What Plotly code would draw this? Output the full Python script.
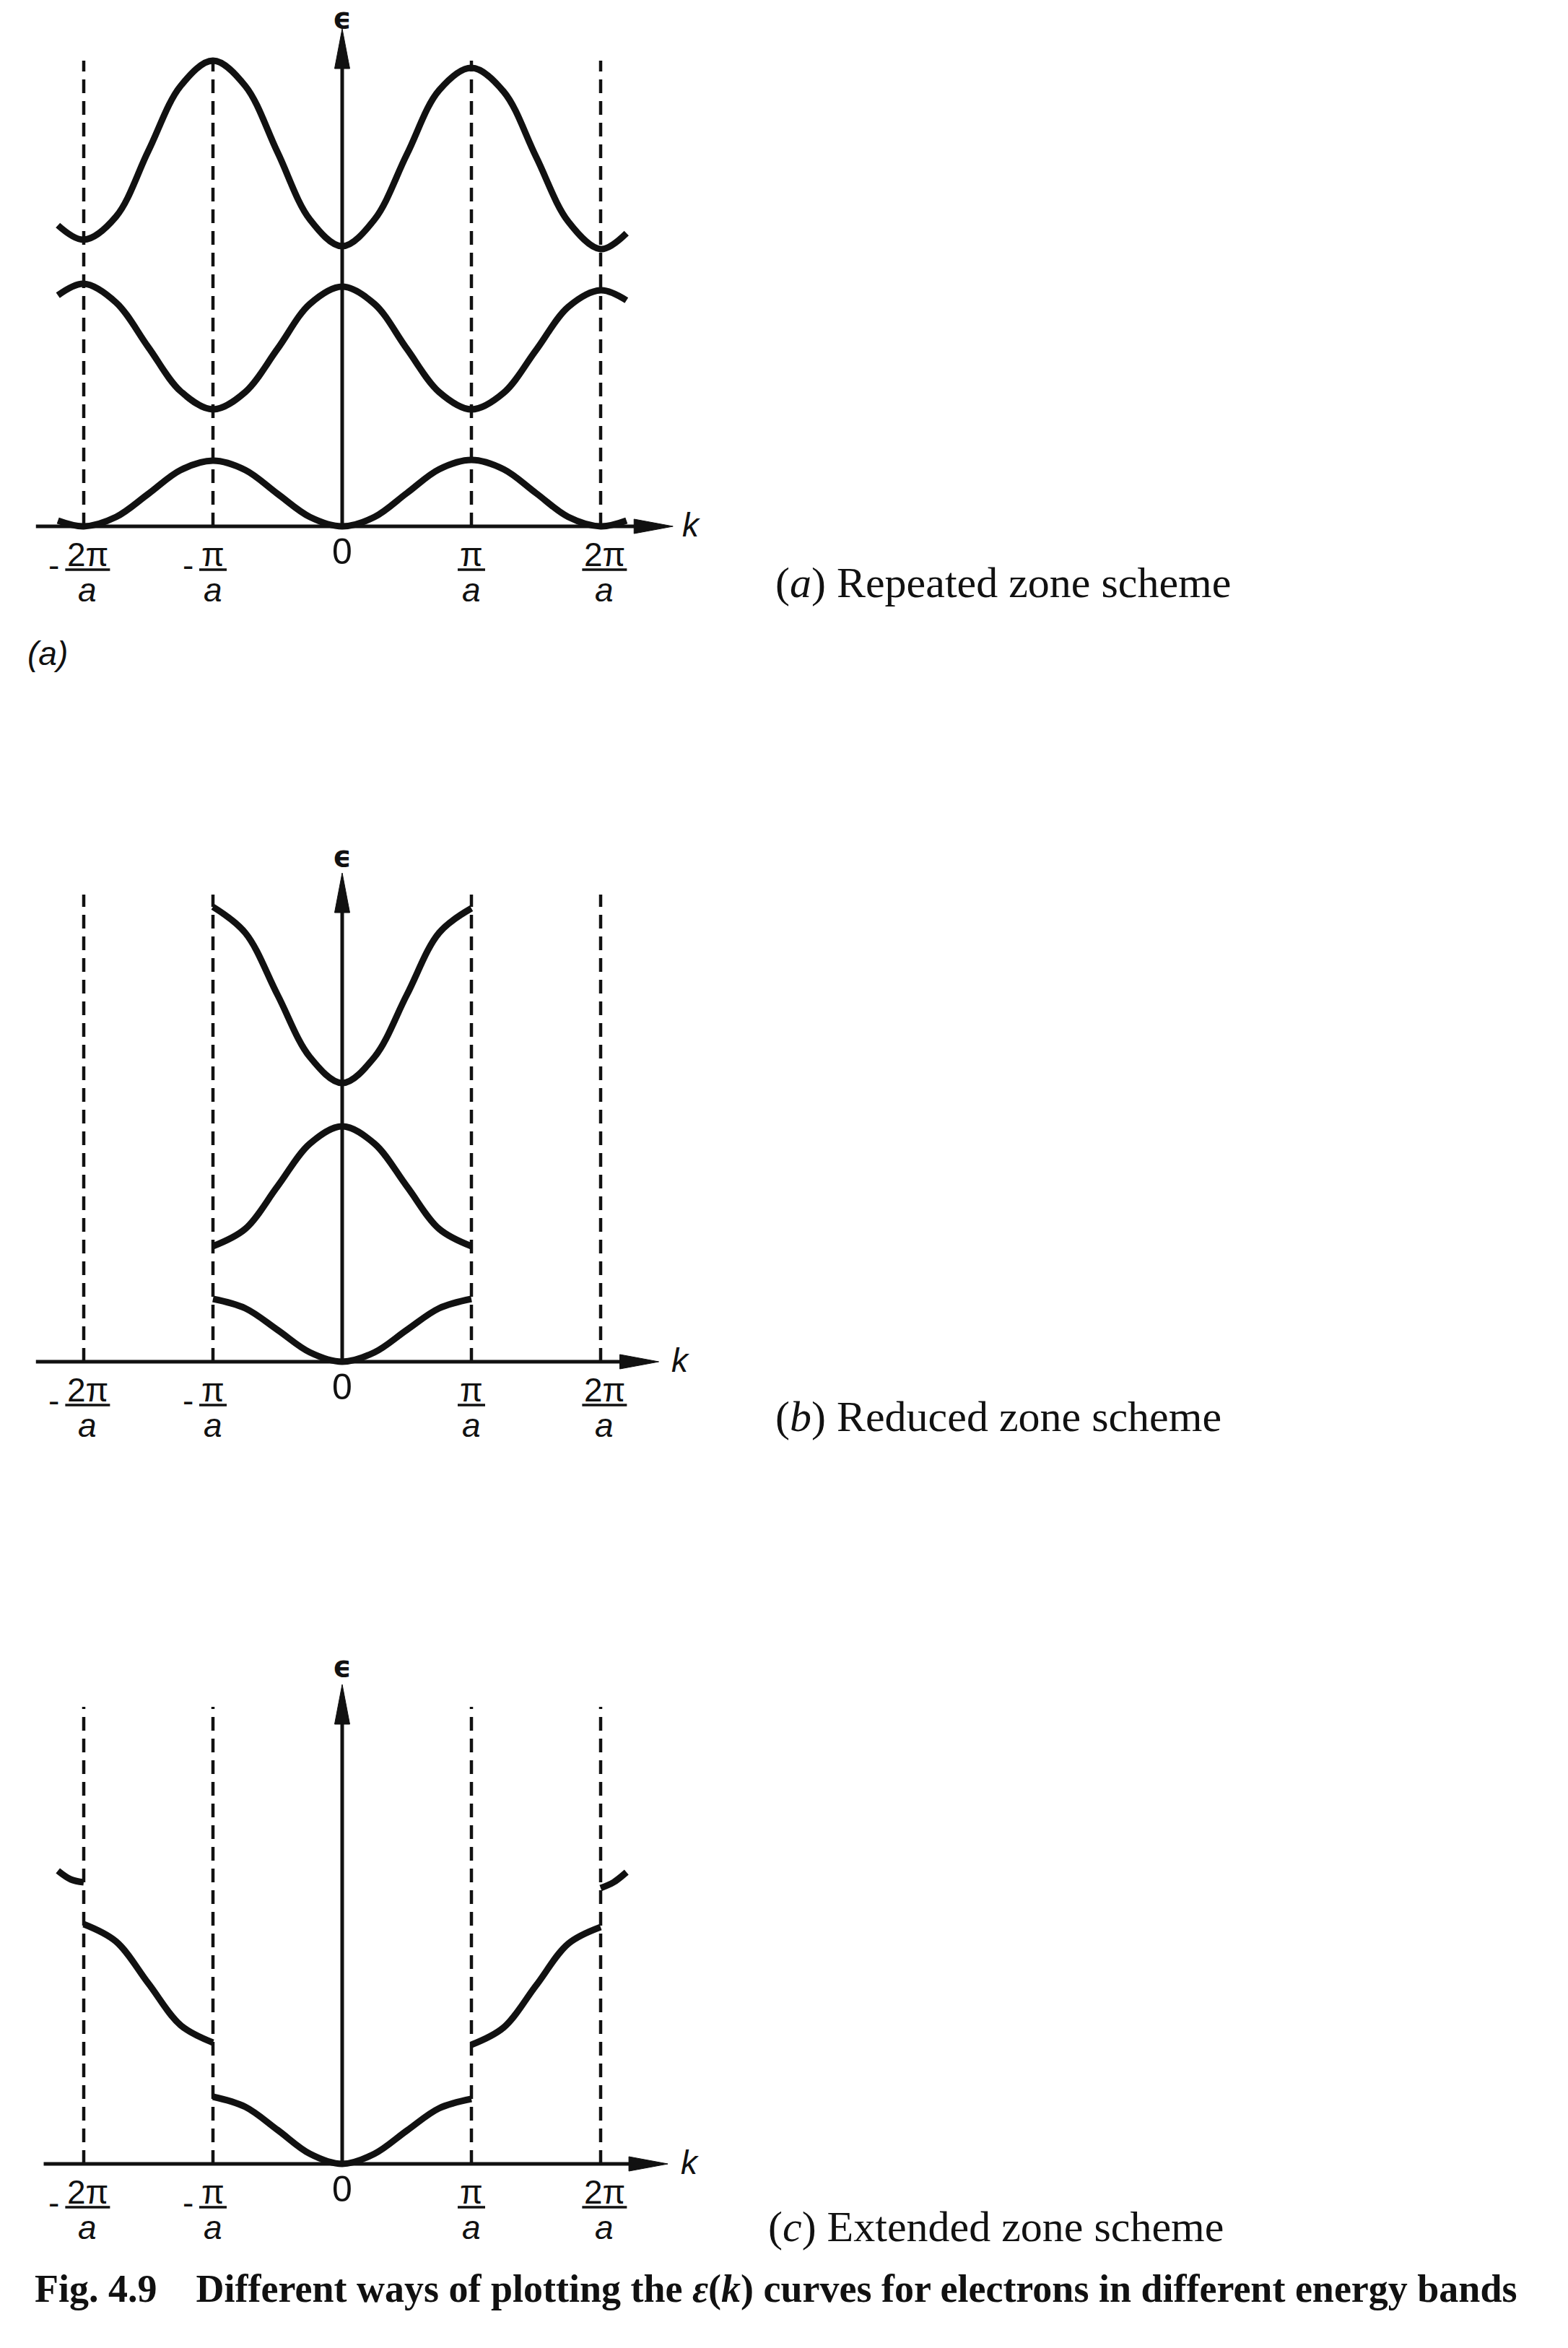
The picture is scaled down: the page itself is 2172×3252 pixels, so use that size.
import plotly.graph_objects as go

W, H = 2172, 3252
PX_X0 = 474        # pixel column of k = 0
PX_PER_K = 179     # pixels per pi/a
PX_PER_E = 10      # pixels per energy unit

# ---------------- data ----------------
zone_k = [-2, -1, 1, 2]                      # zone boundaries (units of pi/a)
tick_k = [-2, -1, 0, 1, 2]
tick_num = ["2π", "π", "0", "π", "2π"]
tick_minus = [True, True, False, False, False]

# (a) repeated zone scheme
k_a = [-2.2, -2.0, -1.75, -1.5, -1.25, -1.0, -0.75, -0.5, -0.25, 0.0,
       0.25, 0.5, 0.75, 1.0, 1.25, 1.5, 1.75, 2.0, 2.2]
band1_a = [0.8, 0.0, 1.3, 4.5, 7.8, 9.1, 7.8, 4.5, 1.3, 0.0,
           1.3, 4.6, 7.9, 9.2, 7.9, 4.6, 1.3, 0.0, 0.8]
band2_a = [32.0, 33.6, 31.0, 24.8, 18.7, 16.2, 18.6, 24.6, 30.8, 33.2,
           30.8, 24.6, 18.6, 16.2, 18.5, 24.4, 30.4, 32.7, 31.3]
band3_a = [41.7, 39.7, 42.9, 52.0, 61.0, 64.5, 61.0, 51.8, 42.5, 38.8,
           42.5, 51.5, 60.4, 63.5, 60.2, 51.2, 42.2, 38.4, 40.6]

# (b) reduced zone scheme
k_b = [-1.0, -0.75, -0.5, -0.25, 0.0, 0.25, 0.5, 0.75, 1.0]
band1_b = [8.7, 7.4, 4.4, 1.3, 0.0, 1.3, 4.4, 7.4, 8.7]
band2_b = [16.0, 18.4, 24.3, 30.2, 32.6, 30.2, 24.3, 18.4, 16.0]
band3_b = [63.0, 59.4, 50.8, 42.2, 38.6, 42.2, 50.8, 59.4, 62.8]

# (c) extended zone scheme
k_c1 = [-1.0, -0.75, -0.5, -0.25, 0.0, 0.25, 0.5, 0.75, 1.0]
band1_c = [9.3, 7.9, 4.7, 1.4, 0.0, 1.4, 4.6, 7.7, 9.0]
k_c2_left = [-2.0, -1.75, -1.5, -1.25, -1.0]
band2_c_left = [33.2, 30.8, 25.0, 19.2, 16.8]
k_c2_right = [1.0, 1.25, 1.5, 1.75, 2.0]
band2_c_right = [16.5, 18.9, 24.7, 30.5, 32.8]
k_c3_left = [-2.2, -2.1, -2.0]
band3_c_left = [40.6, 39.4, 39.0]
k_c3_right = [2.0, 2.1, 2.2]
band3_c_right = [38.2, 39.0, 40.4]

scheme_labels = ["(<i>a</i>) Repeated zone scheme",
                 "(<i>b</i>) Reduced zone scheme",
                 "(<i>c</i>) Extended zone scheme"]
caption = ("<b>Fig. 4.9    Different ways of plotting the <i>ε</i>(<i>k</i>) "
           "curves for electrons in different energy bands</b>")

# ---------------- layout geometry (pixels) ----------------
panels = [
    dict(axis_px=729, top_px=0, bot_px=1000, dash_top=64.5, ytip=68.9, eps_y=72.85, eps_anchor="top",
         xstart=-2.37, xtip=2.56, klab=2.70, lab_px=(1072, 807)),
    dict(axis_px=1886, top_px=1000, bot_px=2110, dash_top=64.7, ytip=67.7, eps_y=70.0, eps_anchor="middle",
         xstart=-2.37, xtip=2.45, klab=2.62, lab_px=(1072, 1962)),
    dict(axis_px=2997, top_px=2110, bot_px=3252, dash_top=63.3, ytip=66.4, eps_y=68.9, eps_anchor="middle",
         xstart=-2.31, xtip=2.52, klab=2.69, lab_px=(1062, 3084)),
]

curves = [
    [(k_a, band1_a), (k_a, band2_a), (k_a, band3_a)],
    [(k_b, band1_b), (k_b, band2_b), (k_b, band3_b)],
    [(k_c1, band1_c), (k_c2_left, band2_c_left), (k_c2_right, band2_c_right),
     (k_c3_left, band3_c_left), (k_c3_right, band3_c_right)],
]

fig = go.Figure()
layout = dict(width=W, height=H, autosize=False, margin=dict(l=0, r=0, t=0, b=0),
              paper_bgcolor="white", plot_bgcolor="white", showlegend=False)
shapes, annotations = [], []

xrange = [-PX_X0 / PX_PER_K, (W - PX_X0) / PX_PER_K]
INK = "#111111"
TICK_FONT = dict(family="Liberation Sans, Arial, sans-serif", size=46, color=INK)

for i, p in enumerate(panels):
    sfx = "" if i == 0 else str(i + 1)
    xa, ya = "x" + sfx, "y" + sfx
    yr = [-(p["bot_px"] - p["axis_px"]) / PX_PER_E, (p["axis_px"] - p["top_px"]) / PX_PER_E]
    layout["xaxis" + sfx] = dict(domain=[0, 1], range=xrange, anchor=ya, visible=False,
                                 fixedrange=True)
    layout["yaxis" + sfx] = dict(domain=[1 - p["bot_px"] / H, 1 - p["top_px"] / H],
                                 range=yr, anchor=xa, visible=False, fixedrange=True)

    # dashed zone boundaries
    for zk in zone_k:
        fig.add_trace(go.Scatter(x=[zk, zk], y=[0, p["dash_top"]], mode="lines",
                                 line=dict(color=INK, width=4.5, dash="19px,11px"),
                                 xaxis=xa, yaxis=ya, hoverinfo="skip"))
    # band curves
    for kx, ey in curves[i]:
        fig.add_trace(go.Scatter(x=kx, y=ey, mode="lines",
                                 line=dict(color=INK, width=9, shape="spline", smoothing=1.0),
                                 xaxis=xa, yaxis=ya, hoverinfo="skip"))

    # k axis with arrow
    head_len_k = 54 / PX_PER_K
    head_half_e = 10 / PX_PER_E
    shapes.append(dict(type="line", xref=xa, yref=ya, x0=p["xstart"], x1=p["xtip"] - head_len_k + 0.02,
                       y0=0, y1=0, line=dict(color=INK, width=5)))
    shapes.append(dict(type="path", xref=xa, yref=ya, fillcolor=INK, line=dict(color=INK, width=1),
                       path=f"M {p['xtip'] - head_len_k},{-head_half_e} L {p['xtip']},0 "
                            f"L {p['xtip'] - head_len_k},{head_half_e} Z"))
    # epsilon axis with arrow
    head_len_e = 55 / PX_PER_E
    head_half_k = 10.5 / PX_PER_K
    shapes.append(dict(type="line", xref=xa, yref=ya, x0=0, x1=0, y0=0,
                       y1=p["ytip"] - head_len_e + 0.2, line=dict(color=INK, width=5)))
    shapes.append(dict(type="path", xref=xa, yref=ya, fillcolor=INK, line=dict(color=INK, width=1),
                       path=f"M {-head_half_k},{p['ytip'] - head_len_e} L 0,{p['ytip']} "
                            f"L {head_half_k},{p['ytip'] - head_len_e} Z"))

    annotations.append(dict(xref=xa, yref=ya, x=0.0, y=p["eps_y"], text="<b>ϵ</b>",
                            yanchor=p["eps_anchor"], xanchor="center", borderpad=0,
                            showarrow=False, font=dict(family="DejaVu Sans", size=40, color=INK)))
    annotations.append(dict(xref=xa, yref=ya, x=p["klab"], y=0.2, text="<i>k</i>",
                            showarrow=False, font=TICK_FONT))

    # tick labels as fractions
    for tk, num, neg in zip(tick_k, tick_num, tick_minus):
        if num == "0":
            annotations.append(dict(xref=xa, yref=ya, x=tk, y=-3.5, text="0",
                                    showarrow=False, font=dict(TICK_FONT, size=50)))
            continue
        half_bar = (31 if len(num) > 1 else 19) / PX_PER_K
        cx = tk + (0.03 if len(num) > 1 else 0.0)
        annotations.append(dict(xref=xa, yref=ya, x=cx, y=-3.9, text=num,
                                showarrow=False, font=TICK_FONT))
        annotations.append(dict(xref=xa, yref=ya, x=cx, y=-8.8, text="<i>a</i>",
                                showarrow=False, font=TICK_FONT))
        shapes.append(dict(type="line", xref=xa, yref=ya, x0=cx - half_bar, x1=cx + half_bar,
                           y0=-6.0, y1=-6.0, line=dict(color=INK, width=3.5)))
        if neg:
            annotations.append(dict(xref=xa, yref=ya, x=cx - half_bar - 6 / PX_PER_K, y=-5.4,
                                    text="-", showarrow=False, xanchor="right",
                                    font=TICK_FONT))

    # scheme caption on the right
    lx, ly = p["lab_px"]
    annotations.append(dict(xref="paper", yref="paper", x=lx / W, y=1 - ly / H,
                            xanchor="left", yanchor="middle", text=scheme_labels[i],
                            showarrow=False,
                            font=dict(family="Liberation Serif, Times New Roman, serif",
                                      size=60, color=INK)))

# small "(a)" tag under panel (a)
annotations.append(dict(xref="paper", yref="paper", x=66 / W, y=1 - 905 / H,
                        xanchor="center", yanchor="middle",
                        text="<i>(a)</i>", showarrow=False,
                        font=dict(family="Liberation Sans, Arial, sans-serif", size=46, color=INK)))
# figure caption
annotations.append(dict(xref="paper", yref="paper", x=46 / W, y=1 - 3170 / H,
                        xanchor="left", yanchor="middle", text=caption, showarrow=False,
                        font=dict(family="Liberation Serif, Times New Roman, serif",
                                  size=54, color=INK)))

layout["shapes"] = shapes
layout["annotations"] = annotations
fig.update_layout(**layout)
fig.write_html("out.html")
